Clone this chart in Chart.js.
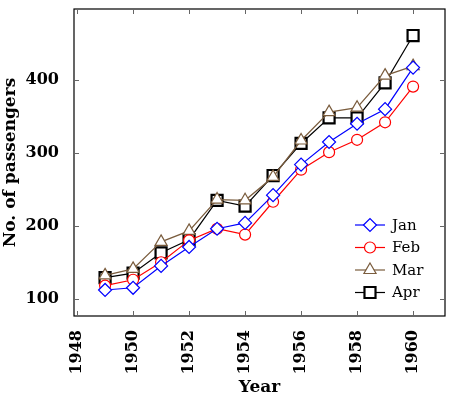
<!DOCTYPE html>
<html>
<head>
<meta charset="utf-8">
<script src="https://cdn.jsdelivr.net/npm/chart.js@4"></script>
<style>
  html, body { margin: 0; padding: 0; background: #fff; }
  #wrap { width: 452px; height: 396px; }
</style>
</head>
<body>
<div id="wrap"><canvas id="chart"></canvas></div>
<script>
// passenger counts per year
const years = [1949, 1950, 1951, 1952, 1953, 1954, 1955, 1956, 1957, 1958, 1959, 1960]
const jan = [112, 115, 145, 171, 196, 204, 242, 284, 315, 340, 360, 417]
const feb = [118, 126, 150, 180, 196, 188, 233, 277, 301, 318, 342, 391]
const mar = [132, 141, 178, 193, 236, 235, 267, 317, 356, 362, 406, 419]
const apr = [129, 135, 163, 181, 235, 227, 269, 313, 348, 348, 396, 461]

const xTicks = [1948, 1950, 1952, 1954, 1956, 1958, 1960]
const yTicks = [100, 200, 300, 400]

const serif = "'DejaVu Serif', 'Liberation Serif', serif"
const brown = '#7a5c3d'

// plot box inside the 452x396 canvas
const plotBox = { left: 74, top: 9, right: 445, bottom: 316 }

function series(label, values, color, style, radius, pointWidth) {
  return {
    label: label,
    data: years.map((y, i) => ({ x: y, y: values[i] })),
    borderColor: color,
    backgroundColor: '#fff',
    borderWidth: 1.2,
    pointStyle: style,
    pointRadius: radius,
    pointBorderWidth: pointWidth,
    pointBackgroundColor: '#fff',
    pointBorderColor: color
  }
}

// pin the plot area so rotated labels don't shrink it
const pinPlugin = {
  id: 'pin',
  afterLayout(chart) {
    const a = chart.chartArea
    const { x, y } = chart.scales
    Object.assign(a, plotBox)
    a.width = a.right - a.left
    a.height = a.bottom - a.top
    x.left = a.left; x.right = a.right; x.width = a.width
    y.top = a.top; y.bottom = a.bottom; y.height = a.height
    x.configure()
    y.configure()
  }
}

// ticks pointing inward on all four sides, plus the frame
const framePlugin = {
  id: 'frame',
  afterDatasetsDraw(chart) {
    const { ctx, chartArea: a, scales } = chart
    ctx.save()
    ctx.strokeStyle = '#000'
    ctx.lineWidth = 1.2
    ctx.strokeRect(a.left, a.top, a.right - a.left, a.bottom - a.top)
    ctx.strokeStyle = '#666'
    ctx.lineWidth = 1
    ctx.beginPath()
    xTicks.forEach(t => {
      const x = Math.round(scales.x.getPixelForValue(t)) + 0.5
      ctx.moveTo(x, a.bottom); ctx.lineTo(x, a.bottom - 5)
      ctx.moveTo(x, a.top); ctx.lineTo(x, a.top + 5)
    })
    yTicks.forEach(t => {
      const y = Math.round(scales.y.getPixelForValue(t)) + 0.5
      ctx.moveTo(a.left, y); ctx.lineTo(a.left + 5, y)
      ctx.moveTo(a.right, y); ctx.lineTo(a.right - 5, y)
    })
    ctx.stroke()
    ctx.restore()
  },
  afterDraw(chart) {
    // legend, bottom right inside the plot
    const { ctx } = chart
    ctx.save()
    ctx.font = '15px ' + serif
    ctx.textBaseline = 'middle'
    chart.data.datasets.forEach((ds, i) => {
      const y = 225 + i * 22.5
      const x0 = 355, x1 = 385, cx = 370
      ctx.strokeStyle = ds.borderColor
      ctx.lineWidth = 1.2
      ctx.beginPath()
      ctx.moveTo(x0, y); ctx.lineTo(x1, y)
      ctx.stroke()
      ctx.lineWidth = ds.pointBorderWidth
      ctx.fillStyle = '#fff'
      Chart.helpers.drawPoint(ctx, { pointStyle: ds.pointStyle, radius: ds.pointRadius, borderWidth: ds.pointBorderWidth }, cx, y)
      ctx.fillStyle = '#000'
      ctx.fillText(ds.label, 392, y + 1)
    })
    ctx.restore()
  }
}

new Chart(document.getElementById('chart'), {
  type: 'line',
  data: {
    datasets: [
      series('Jan', jan, '#0000ff', 'rectRot', 6.5, 1.2),
      series('Feb', feb, '#ff0000', 'circle', 5.5, 1.2),
      series('Mar', mar, brown, 'triangle', 7, 1.2),
      series('Apr', apr, '#000000', 'rect', 7.8, 2.2)
    ]
  },
  options: {
    responsive: true,
    maintainAspectRatio: false,
    animation: false,
    layout: { padding: { left: 0, top: 9, right: 7, bottom: 0 } },
    plugins: {
      legend: { display: false },
      tooltip: { enabled: false }
    },
    scales: {
      x: {
        type: 'linear',
        min: 1947.89,
        max: 1961.14,
        afterBuildTicks: s => { s.ticks = xTicks.map(v => ({ value: v })) },
        afterFit: s => { s.height = 80 },
        grid: { display: false },
        border: { display: false },
        ticks: {
          minRotation: 90,
          maxRotation: 90,
          padding: 6,
          color: '#000',
          font: { family: serif, size: 16, weight: 'bold' },
          callback: v => String(v)
        },
        title: {
          display: true,
          text: 'Year',
          color: '#000',
          font: { family: serif, size: 17, weight: 'bold' },
          padding: { top: 7, bottom: -1.5 }
        }
      },
      y: {
        min: 76.3,
        max: 497.4,
        afterBuildTicks: s => { s.ticks = yTicks.map(v => ({ value: v })) },
        afterFit: s => { s.width = 74 },
        grid: { display: false },
        border: { display: false },
        ticks: {
          padding: 7,
          color: '#000',
          font: { family: serif, size: 16, weight: 'bold' }
        },
        title: {
          display: true,
          text: 'No. of passengers',
          color: '#000',
          font: { family: serif, size: 17, weight: 'bold' },
          padding: { top: 0, bottom: 0 }
        }
      }
    }
  },
  plugins: [pinPlugin, framePlugin]
})
</script>
</body>
</html>
